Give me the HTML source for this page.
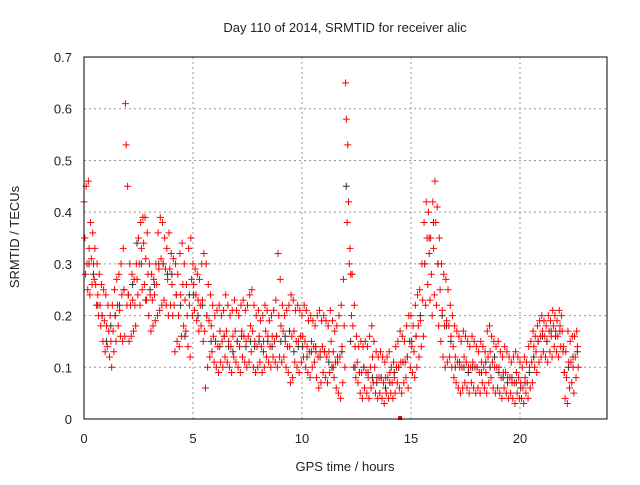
<!DOCTYPE html>
<html><head><meta charset="utf-8"><style>
body{margin:0;background:#fff;width:640px;height:480px;overflow:hidden}
svg text{font-family:"Liberation Sans",sans-serif;font-size:13px;fill:#222}
</style></head><body>
<svg id="chart" width="640" height="480" xmlns="http://www.w3.org/2000/svg">
<text x="345" y="32" text-anchor="middle">Day 110 of 2014, SRMTID for receiver alic</text>
<text transform="translate(19,237) rotate(-90)" text-anchor="middle">SRMTID / TECUs</text>
<text x="345" y="471" text-anchor="middle">GPS time / hours</text>
<g id="grid"></g>
<g id="ticks"></g>
<g id="marks"></g>
<rect x="84" y="57" width="523" height="362" fill="none" stroke="#000" stroke-width="1"/>
</svg>
<script>
const xTicks=[0,5,10,15,20];
const yTicks=[0,0.1,0.2,0.3,0.4,0.5,0.6,0.7];
const redHi=[.42,.45,.46,.38,.36,.33,.30,.28,.26,.25,.24,.22,.20,.22,.25,.27,.28,.30,.33,.61,.45,.30,.28,.27,.30,.35,.38,.39,.39,.36,.30,.28,.27,.30,.36,.39,.38,.35,.33,.36,.32,.31,.30,.28,.32,.34,.30,.26,.33,.35,.30,.29,.28,.27,.30,.32,.30,.26,.24,.22,.20,.21,.22,.20,.21,.24,.22,.20,.21,.23,.21,.20,.22,.23,.21,.22,.24,.25,.22,.20,.21,.19,.20,.22,.21,.19,.20,.21,.23,.32,.27,.22,.20,.21,.22,.24,.23,.21,.22,.21,.20,.22,.21,.19,.20,.19,.18,.20,.21,.19,.20,.19,.18,.21,.19,.17,.18,.20,.22,.27,.65,.53,.33,.28,.22,.16,.14,.15,.14,.15,.14,.16,.18,.15,.13,.12,.13,.12,.11,.12,.13,.10,.11,.14,.15,.17,.16,.15,.18,.20,.20,.18,.22,.24,.25,.30,.38,.42,.40,.35,.42,.46,.41,.35,.30,.28,.27,.25,.22,.20,.18,.17,.16,.15,.17,.16,.15,.14,.16,.15,.14,.13,.15,.14,.13,.17,.18,.16,.15,.14,.15,.13,.12,.14,.13,.12,.11,.12,.13,.12,.11,.10,.12,.11,.14,.15,.17,.16,.18,.19,.20,.19,.18,.20,.19,.21,.20,.19,.21,.20,.14,.13,.17,.15,.16,.16,.17];
const redMid=[.35,.30,.33,.31,.30,.26,.24,.22,.20,.19,.18,.17,.15,.17,.20,.22,.21,.24,.25,.53,.24,.22,.23,.22,.27,.30,.33,.34,.31,.28,.24,.23,.24,.26,.29,.31,.30,.29,.27,.29,.26,.22,.24,.20,.24,.26,.23,.20,.22,.27,.26,.24,.23,.22,.23,.17,.20,.19,.18,.16,.15,.14,.17,.15,.16,.17,.15,.14,.16,.17,.15,.14,.17,.16,.15,.16,.18,.17,.15,.14,.16,.14,.15,.17,.16,.14,.16,.15,.16,.20,.18,.17,.15,.14,.14,.16,.17,.15,.15,.16,.16,.15,.14,.13,.15,.14,.13,.12,.13,.14,.13,.12,.13,.15,.13,.11,.11,.12,.14,.18,.58,.42,.28,.18,.14,.11,.09,.09,.10,.09,.08,.10,.12,.10,.08,.08,.08,.07,.08,.08,.09,.07,.08,.10,.10,.11,.11,.11,.12,.15,.14,.13,.16,.18,.19,.23,.30,.35,.32,.28,.33,.38,.30,.25,.21,.18,.19,.18,.16,.14,.12,.11,.10,.10,.12,.11,.10,.10,.11,.10,.10,.09,.11,.10,.09,.12,.13,.11,.10,.10,.10,.08,.09,.09,.08,.08,.07,.07,.09,.08,.07,.06,.08,.07,.10,.11,.14,.13,.15,.16,.17,.16,.15,.17,.16,.18,.17,.16,.18,.17,.09,.08,.11,.11,.10,.12,.14];
const redLo=[.28,.25,.24,.26,.27,.22,.20,.18,.15,.13,.14,.12,.10,.13,.15,.18,.16,.15,.16,.22,.15,.16,.17,.18,.24,.22,.25,.26,.23,.20,.17,.18,.19,.20,.21,.22,.23,.22,.20,.22,.20,.13,.15,.14,.16,.18,.17,.14,.12,.20,.21,.19,.17,.18,.15,.06,.10,.12,.13,.11,.10,.09,.11,.10,.12,.11,.10,.09,.12,.11,.10,.09,.12,.11,.10,.11,.13,.10,.09,.10,.11,.09,.10,.12,.11,.10,.12,.11,.10,.12,.11,.12,.10,.09,.07,.08,.11,.10,.09,.11,.12,.10,.09,.08,.10,.11,.08,.06,.07,.09,.08,.07,.09,.10,.08,.06,.05,.04,.07,.10,.38,.30,.20,.10,.08,.07,.05,.04,.06,.05,.04,.06,.07,.05,.04,.05,.04,.03,.05,.04,.05,.04,.05,.07,.06,.05,.07,.08,.06,.10,.09,.08,.10,.12,.14,.16,.22,.26,.23,.20,.24,.22,.18,.15,.12,.10,.11,.12,.10,.08,.07,.06,.05,.06,.07,.06,.05,.07,.06,.05,.06,.05,.07,.06,.05,.07,.08,.06,.05,.06,.05,.04,.06,.05,.04,.05,.04,.03,.05,.04,.04,.03,.05,.04,.06,.07,.10,.09,.11,.12,.13,.12,.11,.13,.12,.14,.13,.12,.14,.13,.04,.03,.06,.07,.05,.08,.10];
const blackVals=[.35,.30,.28,.22,.20,.15,.18,.20,.22,.25,.24,.26,.34,.30,.23,.25,.26,.30,.30,.28,.28,.24,.22,.16,.24,.24,.20,.22,.20,.15,.15,.14,.16,.14,.13,.15,.16,.14,.15,.14,.15,.13,.15,.14,.16,.15,.16,.17,.13,.14,.14,.12,.13,.14,.12,.13,.11,.10,.12,.13,.45,.15,.10,.09,.10,.09,.08,.07,.08,.06,.07,.09,.10,.11,.12,.15,.16,.20,.30,.35,.38,.30,.20,.18,.15,.10,.11,.10,.09,.10,.10,.09,.11,.10,.12,.09,.08,.07,.08,.07,.06,.07,.09,.12,.15,.16,.15,.17,.16,.17,.09,.10,.12,.13];
const redStep=0.1, blackStep=0.2;
const X=h=>84+h*21.8, Y=v=>419-v*517.1;
const NS="http://www.w3.org/2000/svg";
const grid=document.getElementById('grid'),ticks=document.getElementById('ticks'),marks=document.getElementById('marks');
function line(p,x1,y1,x2,y2,st,dash){const l=document.createElementNS(NS,'line');l.setAttribute('x1',x1);l.setAttribute('y1',y1);l.setAttribute('x2',x2);l.setAttribute('y2',y2);l.setAttribute('stroke',st);if(dash)l.setAttribute('stroke-dasharray',dash);p.appendChild(l);return l;}
function txt(p,x,y,s,anchor){const t=document.createElementNS(NS,'text');t.setAttribute('x',x);t.setAttribute('y',y);t.setAttribute('text-anchor',anchor);t.textContent=s;p.appendChild(t);return t;}
xTicks.forEach(v=>{const x=X(v);
 const g=line(grid,x,57,x,419,'#999','2,3');
 
 
 const t=txt(ticks,x,443,String(v),'middle');
 
 });
yTicks.forEach(v=>{const y=Y(v);
 const g=line(grid,84,y,607,y,'#999','2,3');
 
 
 const t=txt(ticks,72,y+5,v===0?'0':v.toFixed(1),'end');
 
 });
function plus(h,v,c,name){const g=document.createElementNS(NS,'path');const x=X(h),y=Y(v);
 g.setAttribute('d',`M${x-3.5} ${y}H${x+3.5}M${x} ${y-3.5}V${y+3.5}`);g.setAttribute('stroke',c);g.setAttribute('stroke-width','1');
 
 
 marks.appendChild(g);}
blackVals.forEach((v,i)=>plus(i*blackStep+0.03,v,'#333','black-point'));
redHi.forEach((v,i)=>plus(i*redStep,v,'#f00','red-point'));
redMid.forEach((v,i)=>plus(i*redStep+0.035,v,'#f00','red-point'));
redLo.forEach((v,i)=>plus(i*redStep+0.07,v,'#f00','red-point'));
const sq=document.createElementNS(NS,'rect');
sq.setAttribute('x',X(14.5)-2);sq.setAttribute('y',Y(0)-3);sq.setAttribute('width',4);sq.setAttribute('height',4);sq.setAttribute('fill','#f00');


marks.appendChild(sq);
</script>
</body></html>
